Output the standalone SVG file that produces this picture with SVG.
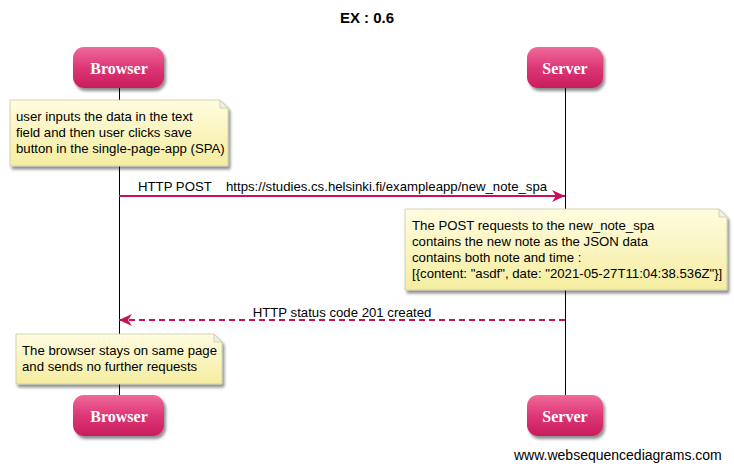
<svg xmlns="http://www.w3.org/2000/svg" width="734" height="470" viewBox="0 0 734 470">
<defs>
<linearGradient id="actorGrad" x1="0" y1="0" x2="0" y2="1">
<stop offset="0" stop-color="#f06a9a"/>
<stop offset="0.5" stop-color="#dd3776"/>
<stop offset="1" stop-color="#c81d5c"/>
</linearGradient>
<linearGradient id="noteGrad" x1="0" y1="0" x2="0" y2="1">
<stop offset="0" stop-color="#fffce0"/>
<stop offset="1" stop-color="#f5eda0"/>
</linearGradient>
<filter id="shadow" x="-10%" y="-10%" width="130%" height="140%">
<feGaussianBlur in="SourceAlpha" stdDeviation="1.5"/>
<feOffset dx="2" dy="3" result="b"/>
<feComponentTransfer><feFuncA type="linear" slope="0.45"/></feComponentTransfer>
<feMerge><feMergeNode/><feMergeNode in="SourceGraphic"/></feMerge>
</filter>
<marker id="arrowSolid" markerWidth="14" markerHeight="12" refX="13" refY="6" orient="auto" markerUnits="userSpaceOnUse">
<path d="M0,0 L13,6 L0,12 L4,6 Z" fill="#c8105a"/>
</marker>
</defs>
<style>
.actor rect { fill: url(#actorGrad); filter: url(#shadow); }
.actor text { font-family: "Liberation Serif", "Times New Roman", serif; font-weight: bold; font-size: 16px; fill: #ffffff; text-anchor: middle; }
.life { stroke: #000; stroke-width: 1; }
.note path.body { fill: url(#noteGrad); stroke: #c8c8a8; stroke-width: 0.8; filter: url(#shadow); }
.note path.fold { fill: #eeeeee; stroke: #c8c8a8; stroke-width: 0.8; }
.note text, .lbl { font-family: "Liberation Sans", Arial, sans-serif; font-size: 13.2px; fill: #000; }
.msg { stroke: #c8105a; stroke-width: 2; fill: none; }
</style>
<text x="367" y="23" font-family="Liberation Sans, Arial, sans-serif" font-weight="bold" font-size="15" text-anchor="middle">EX : 0.6</text>

<g id="lifelines">
<line class="life" x1="119.5" y1="88" x2="119.5" y2="395"/>
<line class="life" x1="565.5" y1="88" x2="565.5" y2="395"/>
</g>

<g id="browser-top" class="actor">
<rect x="73" y="47" width="91" height="41" rx="11" ry="11"/>
<text x="119" y="74">Browser</text>
</g>
<g id="server-top" class="actor">
<rect x="527" y="47" width="76" height="41" rx="11" ry="11"/>
<text x="565" y="74">Server</text>
</g>

<g id="note1" class="note">
<path class="body" d="M10,100 L220,100 L228,108 L228,166 L10,166 Z"/>
<path class="fold" d="M220,100 L220,108 L228,108 Z"/>
<text x="16" y="121">user inputs the data in the text</text>
<text x="16" y="137">field and then user clicks save</text>
<text x="16" y="153">button in the single-page-app (SPA)</text>
</g>

<g id="connectors">
<line class="msg" x1="119" y1="196" x2="565" y2="196" marker-end="url(#arrowSolid)"/>
<text class="lbl" x="138" y="191" xml:space="preserve">HTTP POST   <tspan x="226">https://studies.cs.helsinki.fi/exampleapp/new_note_spa</tspan></text>
<line class="msg" x1="565" y1="320" x2="119" y2="320" stroke-dasharray="6,4" marker-end="url(#arrowSolid)"/>
<text class="lbl" x="342" y="317" text-anchor="middle">HTTP status code 201 created</text>
</g>

<g id="note2" class="note">
<path class="body" d="M405,209 L719,209 L727,217 L727,290 L405,290 Z"/>
<path class="fold" d="M719,209 L719,217 L727,217 Z"/>
<text x="412" y="230">The POST requests to the new_note_spa</text>
<text x="412" y="246">contains the new note as the JSON data</text>
<text x="412" y="262">contains both note and time :</text>
<text x="412" y="278">[{content: "asdf", date: "2021-05-27T11:04:38.536Z"}]</text>
</g>

<g id="note3" class="note">
<path class="body" d="M16,334 L214,334 L222,342 L222,384 L16,384 Z"/>
<path class="fold" d="M214,334 L214,342 L222,342 Z"/>
<text x="22" y="355">The browser stays on same page</text>
<text x="22" y="371">and sends no further requests</text>
</g>

<g id="browser-bottom" class="actor">
<rect x="73" y="395" width="91" height="41" rx="11" ry="11"/>
<text x="119" y="422">Browser</text>
</g>
<g id="server-bottom" class="actor">
<rect x="527" y="395" width="76" height="41" rx="11" ry="11"/>
<text x="565" y="422">Server</text>
</g>

<text x="514" y="460" font-family="Liberation Sans, Arial, sans-serif" font-size="14">www.websequencediagrams.com</text>
</svg>
